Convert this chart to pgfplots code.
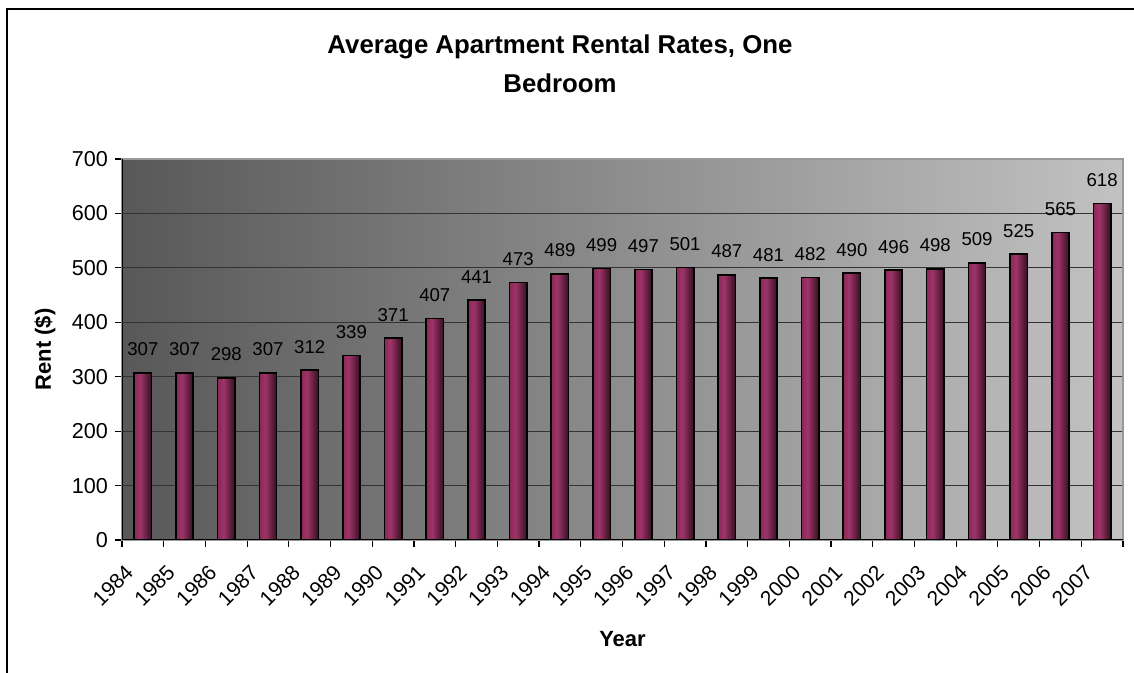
\documentclass[border=0pt]{standalone}
\usepackage{pgfplots}
\pgfplotsset{compat=1.18}
\usepackage{fontspec}
\setmainfont{Liberation Sans}

\definecolor{barL}{RGB}{138,40,88}
\definecolor{barM}{RGB}{158,52,104}
\definecolor{barR}{RGB}{52,15,34}
\definecolor{bgL}{RGB}{88,88,88}
\definecolor{bgR}{RGB}{194,194,194}
\pgfdeclarehorizontalshading{barshade}{100bp}{color(0bp)=(barL); color(25bp)=(barL);
  color(42bp)=(barM); color(75bp)=(barR); color(100bp)=(barR)}

\pgfplotsset{rbar/.style={ybar, bar width=0.415, draw=black, line width=0.8pt, shading=barshade}}

\begin{document}
\begin{tikzpicture}
\useasboundingbox (0,0) rectangle (567pt,336.5pt);
% chart frame (bottom and right fall outside the picture)
\draw[line width=1pt] (3.5pt,-2pt) -- (3.5pt,332pt) -- (570pt,332pt);

\node[align=center, anchor=north, inner sep=0pt,
      font=\fontsize{12.9}{19.5}\selectfont\bfseries] at (280pt,319.5pt)
  {Average Apartment Rental Rates, One\\Bedroom};

\begin{axis}[
    at={(61pt,66.5pt)}, anchor=south west,
    scale only axis, width=500.5pt, height=190.5pt,
    xmin=-0.5, xmax=23.5, ymin=0, ymax=700,
    ytick={0,100,...,700},
    xtick={0,...,23},
    xticklabels={1984,1985,1986,1987,1988,1989,1990,1991,1992,1993,1994,1995,
                 1996,1997,1998,1999,2000,2001,2002,2003,2004,2005,2006,2007},
    minor xtick={-0.5,0.5,...,23.5},
    major x tick style={draw=none},
    tick align=outside, major tick length=3.5pt, minor tick length=3.5pt,
    xtick pos=bottom, ytick pos=left,
    tick style={black, line width=0.6pt},
    ymajorgrids, major grid style={black!80, line width=0.5pt},
    axis line style={draw=gray!80, line width=0.8pt},
    axis background/.style={left color=bgL, right color=bgR},
    /pgf/number format/assume math mode=true,
    yticklabel style={font=\fontsize{10.8}{12}\selectfont},
    xticklabel style={font=\fontsize{10.5}{12}\selectfont, xshift=-4.25pt, yshift=-8.5pt, rotate=45, anchor=east},
    xlabel={Year}, ylabel={Rent (\$)},
    every axis y label/.style={at={(axis description cs:-0.077,0.5)}, rotate=90, anchor=center,
        font=\fontsize{11}{13}\selectfont\bfseries},
    every axis x label/.style={at={(axis description cs:0.5,-0.28)}, anchor=base,
        font=\fontsize{11}{13}\selectfont\bfseries},
    nodes near coords,
    every node near coord/.append style={font=\fontsize{9.3}{11}\selectfont, anchor=south, inner sep=0pt, yshift=8pt},
]
\addplot[rbar] coordinates {(0,307)};
\addplot[rbar] coordinates {(1,307)};
\addplot[rbar] coordinates {(2,298)};
\addplot[rbar] coordinates {(3,307)};
\addplot[rbar] coordinates {(4,312)};
\addplot[rbar] coordinates {(5,339)};
\addplot[rbar] coordinates {(6,371)};
\addplot[rbar] coordinates {(7,407)};
\addplot[rbar] coordinates {(8,441)};
\addplot[rbar] coordinates {(9,473)};
\addplot[rbar] coordinates {(10,489)};
\addplot[rbar] coordinates {(11,499)};
\addplot[rbar] coordinates {(12,497)};
\addplot[rbar] coordinates {(13,501)};
\addplot[rbar] coordinates {(14,487)};
\addplot[rbar] coordinates {(15,481)};
\addplot[rbar] coordinates {(16,482)};
\addplot[rbar] coordinates {(17,490)};
\addplot[rbar] coordinates {(18,496)};
\addplot[rbar] coordinates {(19,498)};
\addplot[rbar] coordinates {(20,509)};
\addplot[rbar] coordinates {(21,525)};
\addplot[rbar] coordinates {(22,565)};
\addplot[rbar] coordinates {(23,618)};
\draw[black, line width=0.8pt] (rel axis cs:0,1) -- (rel axis cs:0,0) -- (rel axis cs:1,0);
\end{axis}
\end{tikzpicture}
\end{document}
